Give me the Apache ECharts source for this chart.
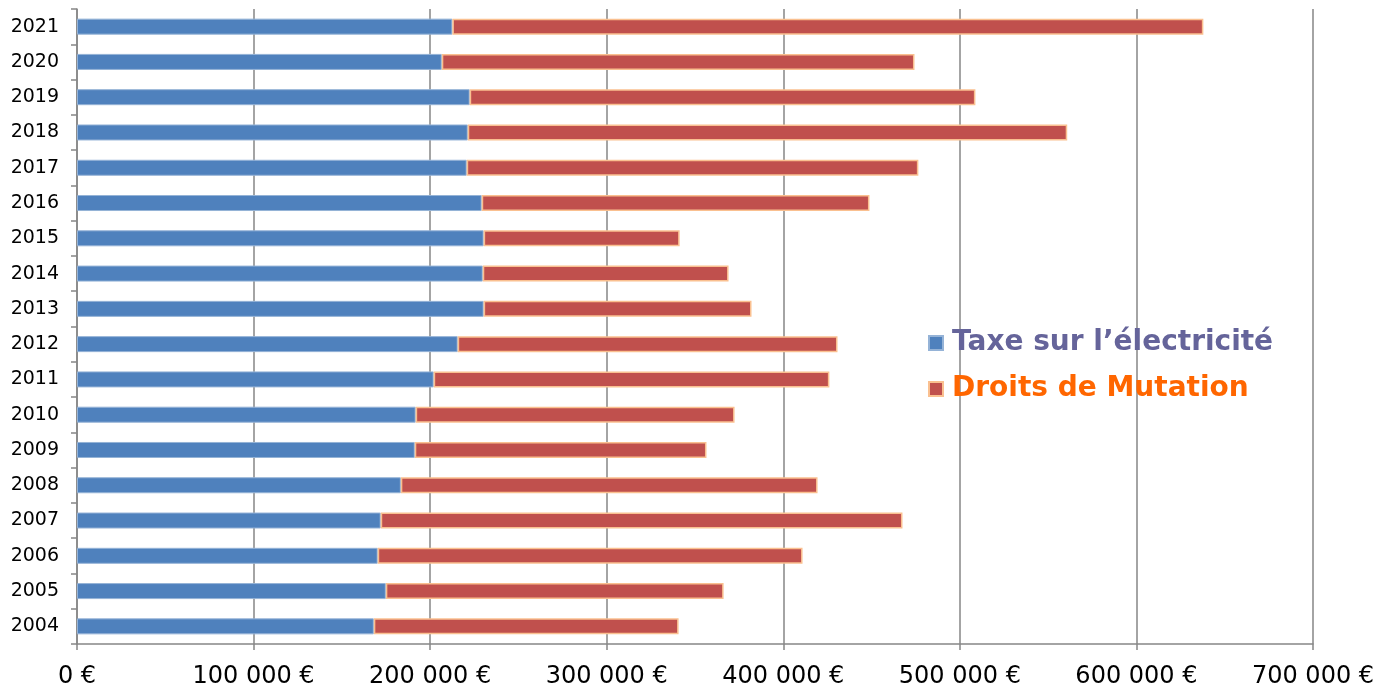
<!DOCTYPE html>
<html>
<head>
<meta charset="utf-8">
<script src="https://cdn.jsdelivr.net/npm/echarts@6/dist/echarts.min.js"></script>
<style>html,body{margin:0;padding:0;background:#fff}#c{width:1391px;height:689px}</style>
</head>
<body>
<div id="c"></div>
<script>
const years = ['2004','2005','2006','2007','2008','2009','2010','2011','2012','2013','2014','2015','2016','2017','2018','2019','2020','2021'];
const taxeElectricite = [168100,174900,170300,172000,183400,191300,191800,202000,215600,230300,229800,230300,229200,220700,221300,222400,206600,212600];
const droitsMutation = [172600,191300,240600,295500,236000,165200,180600,224100,215100,151700,139200,111000,219600,255800,339500,286400,267700,425300];
const seriesNames = ['Taxe sur l\u2019électricité','Droits de Mutation'];

function fmt(v){
  const s = String(Math.round(v));
  return s.replace(/\B(?=(\d{3})+(?!\d))/g,' ') + ' €';
}
const font = '"DejaVu Sans", Verdana, sans-serif';
const chart = echarts.init(document.getElementById('c'));
chart.setOption({
  animation:false,
  grid:{left:77,right:78,top:9,bottom:45,containLabel:false,outerBoundsMode:'none'},
  legend:{
    orient:'vertical',left:923,top:322,
    itemWidth:14,itemHeight:14,itemGap:14,icon:'rect',
    data:[
      {name:seriesNames[0],textStyle:{color:'#65649A'}},
      {name:seriesNames[1],textStyle:{color:'#FF6600'}}
    ],
    textStyle:{fontFamily:font,fontWeight:'bold',fontSize:28,lineHeight:32,padding:[0,0,0,4]}
  },
  xAxis:{
    type:'value',min:0,max:700000,interval:100000,
    axisLine:{show:true,lineStyle:{color:'#868686',width:1.5}},
    axisTick:{show:true,length:6,lineStyle:{color:'#868686',width:1.5}},
    splitLine:{show:true,lineStyle:{color:'#868686',width:1.5}},
    axisLabel:{formatter:fmt,color:'#000',fontFamily:font,fontSize:24,margin:21}
  },
  yAxis:{
    type:'category',data:years,
    axisLine:{show:true,lineStyle:{color:'#868686',width:1.5}},
    axisTick:{show:true,length:6,lineStyle:{color:'#868686',width:1.5}},
    axisLabel:{color:'#000',fontFamily:font,fontSize:19,margin:18}
  },
  series:[
    {name:seriesNames[0],type:'bar',stack:'t',data:taxeElectricite,barWidth:16,
     itemStyle:{color:'#4F81BD',borderColor:'#95B3D7',borderWidth:1}},
    {name:seriesNames[1],type:'bar',stack:'t',data:droitsMutation,barWidth:16,
     itemStyle:{color:'#C0504D',borderColor:'#FAC090',borderWidth:1.5}}
  ]
});
</script>
</body>
</html>
